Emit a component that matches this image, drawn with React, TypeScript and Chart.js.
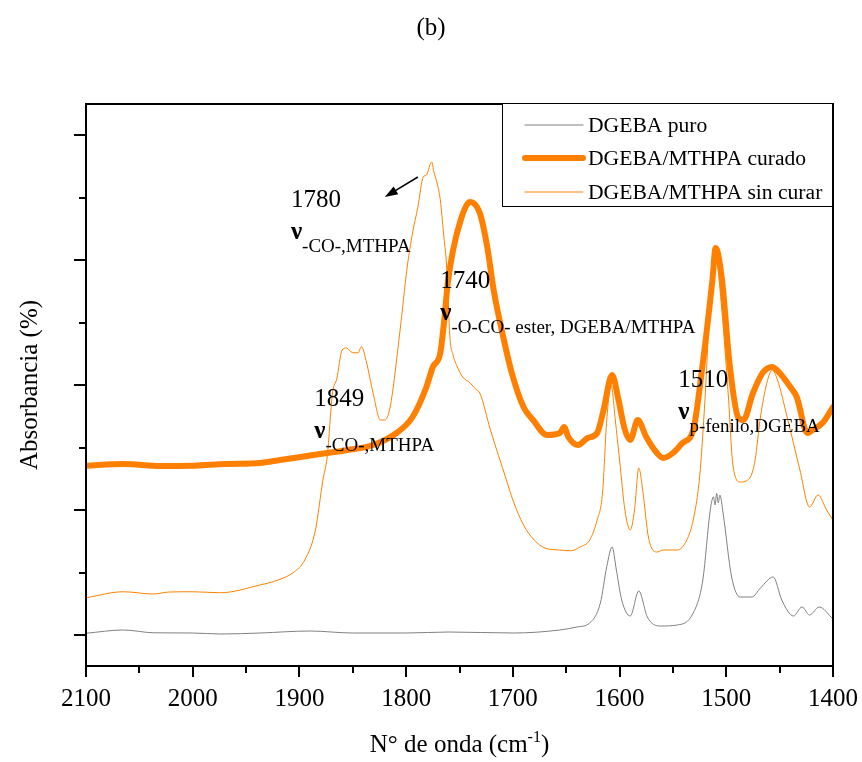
import React, { useEffect, useRef } from "react";
import { Chart, registerables } from "chart.js";

Chart.register(...registerables);

const FONT = '"Liberation Serif", "Times New Roman", serif';
const ORANGE = "#ff8000";
const GRAY = "#808080";

// Wavenumbers (cm-1) and absorbance (arbitrary units, offset) for each spectrum
const puroX = [2100, 2065, 2037, 2000, 1974, 1937, 1890, 1850, 1800, 1760, 1700, 1656, 1640, 1628, 1618, 1612, 1607, 1603, 1598, 1590, 1582, 1574, 1562, 1546, 1531, 1522, 1515, 1512, 1510.5, 1509, 1507.5, 1506, 1503, 1495, 1487, 1476, 1468, 1456, 1448, 1437, 1429, 1422, 1413, 1400];
const puroY = [0.014, 0.04, 0.018, 0.016, 0.008, 0.016, 0.032, 0.016, 0.016, 0.024, 0.016, 0.04, 0.064, 0.096, 0.256, 0.547, 0.704, 0.52, 0.28, 0.152, 0.352, 0.144, 0.072, 0.08, 0.176, 0.44, 1.0, 1.106, 1.04, 1.133, 1.056, 1.12, 0.976, 0.464, 0.304, 0.304, 0.376, 0.464, 0.28, 0.152, 0.224, 0.16, 0.224, 0.128];

const curadoX = [2100, 2065, 2030, 2000, 1969, 1937, 1918, 1887, 1855, 1831, 1809, 1794, 1781, 1775, 1768, 1764, 1761, 1756, 1748, 1742, 1740, 1731, 1724, 1718, 1709, 1701, 1690, 1681, 1668, 1656, 1652, 1648, 1639, 1630, 1621, 1615, 1607, 1601, 1595, 1590, 1583, 1575, 1565, 1559, 1550, 1541, 1531, 1522, 1513, 1510, 1504, 1497, 1489, 1484, 1475, 1466, 1457, 1450, 1440, 1434, 1424, 1419, 1409, 1400];
const curadoY = [1.354, 1.368, 1.352, 1.354, 1.368, 1.376, 1.4, 1.44, 1.48, 1.52, 1.616, 1.744, 1.984, 2.144, 2.256, 2.544, 2.816, 3.08, 3.344, 3.456, 3.464, 3.376, 3.104, 2.76, 2.384, 2.096, 1.824, 1.72, 1.6, 1.616, 1.664, 1.584, 1.52, 1.576, 1.616, 1.8, 2.08, 1.88, 1.64, 1.56, 1.72, 1.584, 1.456, 1.416, 1.456, 1.536, 1.64, 2.176, 2.84, 3.096, 2.84, 2.176, 1.744, 1.72, 1.936, 2.096, 2.144, 2.096, 1.984, 1.904, 1.616, 1.64, 1.704, 1.824];

const sinCurarX = [2100, 2065, 2037, 2022, 2000, 1974, 1937, 1920, 1905, 1895, 1885, 1878, 1874, 1869, 1865, 1860, 1856, 1850, 1845, 1842, 1837, 1831, 1824, 1820, 1815, 1806, 1799, 1794, 1789, 1784, 1781, 1777, 1776, 1774, 1771, 1768, 1765, 1762, 1759, 1756, 1752, 1747, 1740, 1734, 1731, 1721, 1706, 1700, 1690, 1680, 1670, 1656, 1646, 1637, 1628, 1621, 1616, 1612, 1608, 1604, 1600, 1595, 1590, 1586, 1582, 1578, 1573, 1565, 1559, 1546, 1537, 1531, 1525, 1520, 1515, 1510, 1505, 1498, 1494, 1487, 1478, 1473, 1468, 1462, 1457, 1452, 1443, 1431, 1422, 1414, 1406, 1400];
const sinCurarY = [0.298, 0.346, 0.328, 0.344, 0.346, 0.338, 0.4, 0.44, 0.504, 0.6, 0.84, 1.24, 1.424, 1.936, 2.05, 2.28, 2.296, 2.258, 2.258, 2.306, 2.176, 1.936, 1.72, 1.72, 1.824, 2.416, 2.944, 3.216, 3.424, 3.664, 3.68, 3.776, 3.784, 3.704, 3.616, 3.48, 3.216, 2.944, 2.384, 2.24, 2.144, 2.064, 2.016, 1.96, 1.936, 1.64, 1.24, 1.08, 0.88, 0.76, 0.696, 0.68, 0.674, 0.704, 0.76, 0.92, 1.136, 1.72, 2.0, 1.72, 1.4, 1.0, 0.84, 1.0, 1.336, 1.136, 0.784, 0.664, 0.68, 0.68, 0.76, 0.92, 1.264, 1.88, 2.68, 3.04, 2.68, 1.904, 1.376, 1.224, 1.256, 1.4, 1.744, 2.016, 2.12, 2.04, 1.744, 1.32, 1.024, 1.12, 1.0, 0.92];

const seriesNames = ["DGEBA puro", "DGEBA/MTHPA curado", "DGEBA/MTHPA sin curar"];

const xMin = 1400;
const xMax = 2100;
const yMin = -0.248;
const yMax = 4.248;
const xMajorTicks = [2100, 2000, 1900, 1800, 1700, 1600, 1500, 1400];
const xMinorTicks = [2050, 1950, 1850, 1750, 1650, 1550, 1450];
const yMajorTicks = [0, 1, 2, 3, 4];
const yMinorTicks = [0.5, 1.5, 2.5, 3.5];

const peakLabels = [
  { num: "1780", x: 1908, y: 3.424, sub: "-CO-,MTHPA" },
  { num: "1849", x: 1886, y: 1.832, sub: "-CO-,MTHPA" },
  { num: "1740", x: 1768, y: 2.776, sub: "-O-CO- ester, DGEBA/MTHPA" },
  { num: "1510", x: 1545, y: 1.984, sub: "p-fenilo,DGEBA" },
];
const arrowFrom = { x: 1789, y: 3.664 };
const arrowTo = { x: 1820, y: 3.504 };

const toPoints = (xs: number[], ys: number[]) => xs.map((x, i) => ({ x, y: ys[i] }));

const decorPlugin = {
  id: "decor",
  afterDraw(chart: any) {
    const { ctx, chartArea: ca, scales } = chart;
    const xs = scales.x;
    const ys = scales.y;
    ctx.save();
    ctx.fillStyle = "#000";
    ctx.strokeStyle = "#000";

    // frame
    ctx.lineWidth = 2;
    ctx.strokeRect(ca.left, ca.top, ca.right - ca.left, ca.bottom - ca.top);

    // ticks
    ctx.lineWidth = 2;
    ctx.beginPath();
    yMajorTicks.forEach((v) => {
      const p = Math.round(ys.getPixelForValue(v));
      ctx.moveTo(ca.left - 12, p);
      ctx.lineTo(ca.left, p);
    });
    yMinorTicks.forEach((v) => {
      const p = Math.round(ys.getPixelForValue(v));
      ctx.moveTo(ca.left - 7, p);
      ctx.lineTo(ca.left, p);
    });
    xMajorTicks.forEach((v) => {
      const p = Math.round(xs.getPixelForValue(v));
      ctx.moveTo(p, ca.bottom);
      ctx.lineTo(p, ca.bottom + 11);
    });
    xMinorTicks.forEach((v) => {
      const p = Math.round(xs.getPixelForValue(v));
      ctx.moveTo(p, ca.bottom);
      ctx.lineTo(p, ca.bottom + 7);
    });
    ctx.stroke();

    // title
    ctx.font = `25px ${FONT}`;
    ctx.textAlign = "center";
    ctx.textBaseline = "middle";
    ctx.fillText("(b)", chart.width / 2, 28);

    // y axis title
    ctx.save();
    ctx.translate(30, (ca.top + ca.bottom) / 2);
    ctx.rotate(-Math.PI / 2);
    ctx.fillText("Absorbancia (%)", 0, 0);
    ctx.restore();

    // x axis title with superscript
    ctx.textAlign = "left";
    ctx.textBaseline = "alphabetic";
    const main1 = "N° de onda (cm";
    const sup = "-1";
    const main2 = ")";
    ctx.font = `25px ${FONT}`;
    const w1 = ctx.measureText(main1).width;
    const w3 = ctx.measureText(main2).width;
    ctx.font = `16px ${FONT}`;
    const w2 = ctx.measureText(sup).width;
    const total = w1 + w2 + w3;
    let sx = (ca.left + ca.right) / 2 - total / 2;
    const base = 752;
    ctx.font = `25px ${FONT}`;
    ctx.fillText(main1, sx, base);
    sx += w1;
    ctx.font = `16px ${FONT}`;
    ctx.fillText(sup, sx, base - 10);
    sx += w2;
    ctx.font = `25px ${FONT}`;
    ctx.fillText(main2, sx, base);

    // peak annotations
    peakLabels.forEach((a) => {
      const px = xs.getPixelForValue(a.x);
      const py = ys.getPixelForValue(a.y);
      ctx.font = `25px ${FONT}`;
      ctx.fillText(a.num, px, py);
      ctx.font = `bold 25px ${FONT}`;
      ctx.fillText("ν", px, py + 32);
      const nw = ctx.measureText("ν").width;
      ctx.font = `19px ${FONT}`;
      ctx.fillText(a.sub, px + nw, py + 45);
    });

    // arrow
    const ax0 = xs.getPixelForValue(arrowFrom.x);
    const ay0 = ys.getPixelForValue(arrowFrom.y);
    const ax1 = xs.getPixelForValue(arrowTo.x);
    const ay1 = ys.getPixelForValue(arrowTo.y);
    const ang = Math.atan2(ay1 - ay0, ax1 - ax0);
    ctx.lineWidth = 1.5;
    ctx.beginPath();
    ctx.moveTo(ax0, ay0);
    ctx.lineTo(ax1 - 8 * Math.cos(ang), ay1 - 8 * Math.sin(ang));
    ctx.stroke();
    ctx.beginPath();
    ctx.moveTo(ax1, ay1);
    ctx.lineTo(ax1 - 13 * Math.cos(ang) + 4.5 * Math.sin(ang), ay1 - 13 * Math.sin(ang) - 4.5 * Math.cos(ang));
    ctx.lineTo(ax1 - 13 * Math.cos(ang) - 4.5 * Math.sin(ang), ay1 - 13 * Math.sin(ang) + 4.5 * Math.cos(ang));
    ctx.closePath();
    ctx.fill();

    // legend
    const bw = 331;
    const bh = 104;
    const bx = ca.right - bw;
    const by = ca.top - 1;
    ctx.fillStyle = "#fff";
    ctx.fillRect(bx, by, bw, bh);
    ctx.strokeStyle = "#000";
    ctx.lineWidth = 1;
    ctx.strokeRect(bx + 0.5, by + 0.5, bw - 1, bh - 1);
    const rows = [
      { name: seriesNames[0], color: GRAY, width: 1 },
      { name: seriesNames[1], color: ORANGE, width: 6 },
      { name: seriesNames[2], color: ORANGE, width: 1 },
    ];
    const rowY = [22, 55, 89];
    ctx.font = `21.6px ${FONT}`;
    ctx.textBaseline = "middle";
    ctx.textAlign = "left";
    rows.forEach((r, i) => {
      const yy = by + rowY[i];
      ctx.strokeStyle = r.color;
      ctx.lineWidth = r.width;
      ctx.lineCap = "round";
      ctx.beginPath();
      ctx.moveTo(bx + 23, yy);
      ctx.lineTo(bx + 81, yy);
      ctx.stroke();
      ctx.fillStyle = "#000";
      ctx.fillText(r.name, bx + 86, yy + 1);
    });

    ctx.restore();
  },
};

export default function App() {
  const ref = useRef<HTMLCanvasElement | null>(null);
  useEffect(() => {
    if (!ref.current) return;
    const chart = new Chart(ref.current, {
      type: "line",
      data: {
        datasets: [
          {
            label: seriesNames[1],
            data: toPoints(curadoX, curadoY),
            borderColor: ORANGE,
            borderWidth: 6,
            pointRadius: 0,
            cubicInterpolationMode: "monotone",
            borderJoinStyle: "round",
            borderCapStyle: "round",
            fill: false,
          },
          {
            label: seriesNames[2],
            data: toPoints(sinCurarX, sinCurarY),
            borderColor: ORANGE,
            borderWidth: 1,
            pointRadius: 0,
            cubicInterpolationMode: "monotone",
            fill: false,
          },
          {
            label: seriesNames[0],
            data: toPoints(puroX, puroY),
            borderColor: GRAY,
            borderWidth: 1,
            pointRadius: 0,
            cubicInterpolationMode: "monotone",
            fill: false,
          },
        ],
      },
      options: {
        animation: false,
        responsive: false,
        events: [],
        layout: { padding: { left: 0, right: 29, top: 104, bottom: 0 } },
        plugins: {
          legend: { display: false },
          tooltip: { enabled: false },
          title: { display: false },
        },
        scales: {
          x: {
            type: "linear",
            reverse: true,
            min: xMin,
            max: xMax,
            afterFit: (s: any) => {
              s.height = 96;
              s.paddingLeft = 0;
              s.paddingRight = 0;
            },
            grid: { display: false, drawTicks: false },
            border: { display: false },
            ticks: {
              stepSize: 100,
              autoSkip: false,
              maxRotation: 0,
              padding: 18,
              color: "#000",
              font: { family: FONT, size: 25 },
              callback: (v: any) => String(v),
            },
          },
          y: {
            type: "linear",
            min: yMin,
            max: yMax,
            afterFit: (s: any) => {
              s.width = 86;
              s.paddingTop = 0;
              s.paddingBottom = 0;
            },
            grid: { display: false, drawTicks: false },
            border: { display: false },
            ticks: { display: false },
          },
        },
      },
      plugins: [decorPlugin],
    });
    return () => chart.destroy();
  }, []);
  return (
    <div style={{ position: "absolute", left: 0, top: 0, width: 862, height: 762, background: "#fff" }}>
      <canvas ref={ref} width={862} height={762} style={{ display: "block", width: 862, height: 762 }} />
    </div>
  );
}
